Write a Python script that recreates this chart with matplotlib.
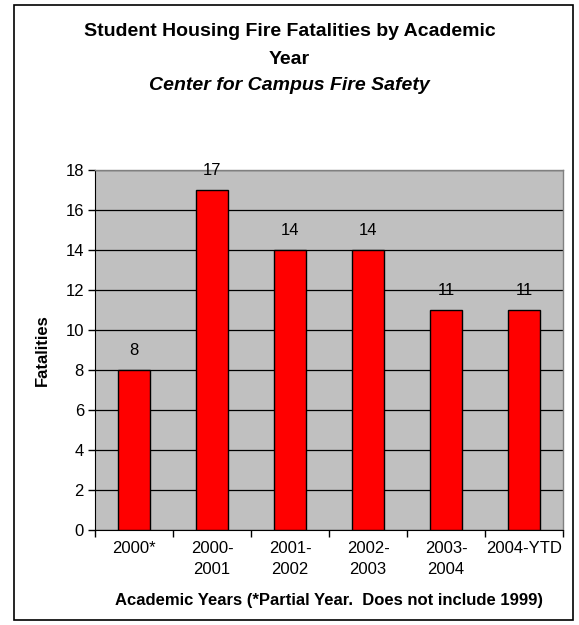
import matplotlib.pyplot as plt
import numpy as np
from matplotlib.patches import Rectangle

plt.rcParams['font.family'] = ['Liberation Sans', 'DejaVu Sans']

years = ['2000*', '2000-\n2001', '2001-\n2002', '2002-\n2003', '2003-\n2004', '2004-YTD']
fatalities = [8, 17, 14, 14, 11, 11]

fig = plt.figure(figsize=(5.79, 6.25), dpi=100)
W, H = 579, 625

# outer chart border
fig.patches.append(Rectangle((14 / W, 5 / H), (573 - 14) / W, (620 - 5) / H,
                             transform=fig.transFigure, fill=False,
                             edgecolor='black', linewidth=1.2))

ax = fig.add_axes([95 / W, 1 - 530 / H, (563 - 95) / W, (530 - 170) / H])
ax.set_facecolor('#C0C0C0')

x = np.arange(len(years))
ax.bar(x, fatalities, width=0.41, color='#FF0000', edgecolor='black',
       linewidth=1.0, zorder=3)
for xi, v in zip(x, fatalities):
    ax.text(xi, v + 0.6, str(v), ha='center', va='bottom', fontsize=12, zorder=4)

ax.set_xlim(-0.5, len(years) - 0.5)
ax.set_ylim(0, 18)
ax.set_yticks(range(0, 19, 2))
ax.yaxis.grid(True, color='black', linewidth=0.9, zorder=1)
ax.set_axisbelow(True)

ax.set_xticks(x)
ax.set_xticklabels(years, fontsize=12, linespacing=1.45)
ax.tick_params(axis='x', length=0, pad=8)
ax.set_xticks(np.arange(-0.5, len(years), 1), minor=True)
ax.tick_params(axis='x', which='minor', length=5, direction='out', width=1)
ax.tick_params(axis='y', length=5, direction='out', labelsize=12, width=1, pad=3)

for s in ['top', 'right']:
    ax.spines[s].set_color('#808080')
    ax.spines[s].set_linewidth(1)
ax.spines['left'].set_color('black')
ax.spines['bottom'].set_color('black')

ax.set_ylabel('Fatalities', fontsize=12, fontweight='bold', labelpad=11)
ax.set_xlabel('Academic Years (*Partial Year.  Does not include 1999)',
              fontsize=12, fontweight='bold', labelpad=12)

fig.text(0.5, 1 - 32 / H, 'Student Housing Fire Fatalities by Academic',
         ha='center', va='center', fontsize=14, fontweight='bold')
fig.text(0.5, 1 - 60 / H, 'Year', ha='center', va='center',
         fontsize=14, fontweight='bold')
fig.text(0.5, 1 - 86 / H, 'Center for Campus Fire Safety', ha='center',
         va='center', fontsize=14, fontweight='bold', style='italic')

fig.savefig('out.png', dpi=100)
